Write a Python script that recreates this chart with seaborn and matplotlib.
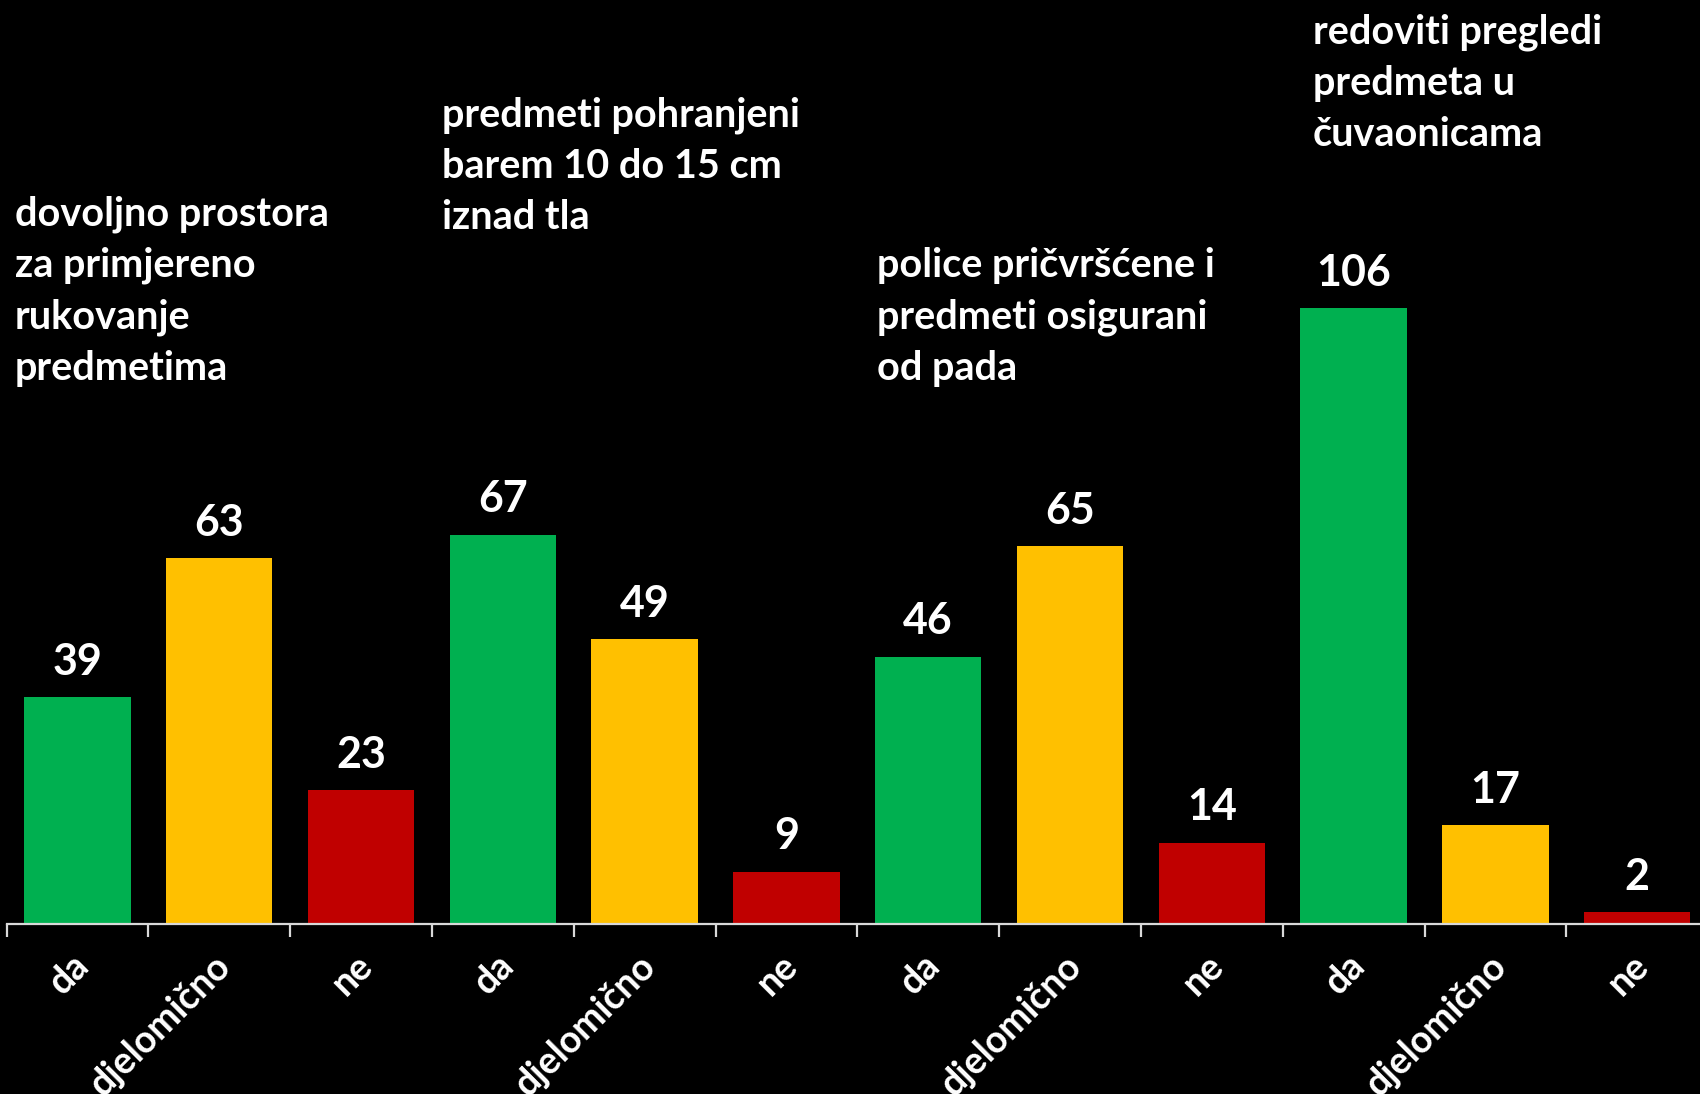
import matplotlib.pyplot as plt
import matplotlib.transforms as mtransforms
import seaborn as sns
import pandas as pd

# data
groups = [
    "dovoljno prostora\nza primjereno\nrukovanje\npredmetima",
    "predmeti pohranjeni\nbarem 10 do 15 cm\niznad tla",
    "police pričvršćene i\npredmeti osigurani\nod pada",
    "redoviti pregledi\npredmeta u\nčuvaonicama",
]
answers = ["da", "djelomično", "ne"]
da = [39, 67, 46, 106]
djelomicno = [63, 49, 65, 17]
ne = [23, 9, 14, 2]
answer_colors = {"da": "#00B050", "djelomično": "#FFC000", "ne": "#C00000"}

rows = []
for g in range(len(groups)):
    for a, vals in zip(answers, [da, djelomicno, ne]):
        rows.append({"key": f"{g}_{a}", "answer": a, "value": vals[g]})
df = pd.DataFrame(rows)
palette = {k: answer_colors[a] for k, a in zip(df["key"], df["answer"])}

sns.set_style("dark")
plt.rcParams["font.family"] = ["Lato", "DejaVu Sans"]
plt.rcParams["font.weight"] = "bold"

W, H = 1700, 1094
fig = plt.figure(figsize=(W / 100, H / 100), dpi=100, facecolor="black")
ax = fig.add_axes([6.5 / W, 1 - 924 / H, 12 * 141.8 / W, 924 / H])
ax.set_facecolor("black")

sns.barplot(data=df, x="key", y="value", hue="key", palette=palette,
            legend=False, width=0.75, saturation=1, linewidth=0, ax=ax)

ax.set_xlim(-0.5, 11.5)
ax.set_ylim(0, 159)
ax.set_xlabel("")
ax.set_ylabel("")
ax.set_yticks([])
ax.grid(False)
for s in ["top", "right", "left"]:
    ax.spines[s].set_visible(False)
ax.spines["bottom"].set_color("#d9d9d9")
ax.spines["bottom"].set_linewidth(1.6)

# labels at bar centres, tick marks between bars
ax.set_xticks(range(len(df)))
ax.set_xticklabels(df["answer"], rotation=45, ha="right", va="center",
                   rotation_mode="anchor", color="white", fontsize=27,
                   fontweight="bold")
ax.tick_params(axis="x", which="major", bottom=True, length=0, pad=26)
shift = mtransforms.ScaledTranslation(6 / 100, 0, fig.dpi_scale_trans)
for lbl in ax.get_xticklabels():
    lbl.set_transform(lbl.get_transform() + shift)
ax.set_xticks([i - 0.5 for i in range(len(df) + 1)], minor=True)
ax.tick_params(axis="x", which="minor", bottom=True, length=9, width=1.6,
               color="#d9d9d9", direction="out")

for c in ax.containers:
    ax.bar_label(c, padding=11, color="white", fontsize=31, fontweight="bold")

# group descriptions
label_pos = [(15, 291), (442, 166), (877, 317), (1313, 83)]
for txt, (px, py) in zip(groups, label_pos):
    fig.text(px / W, 1 - py / H, txt, ha="left", va="center", color="white",
             fontsize=28.5, fontweight="bold", linespacing=1.47)

fig.savefig("out.png", dpi=100, facecolor="black")
